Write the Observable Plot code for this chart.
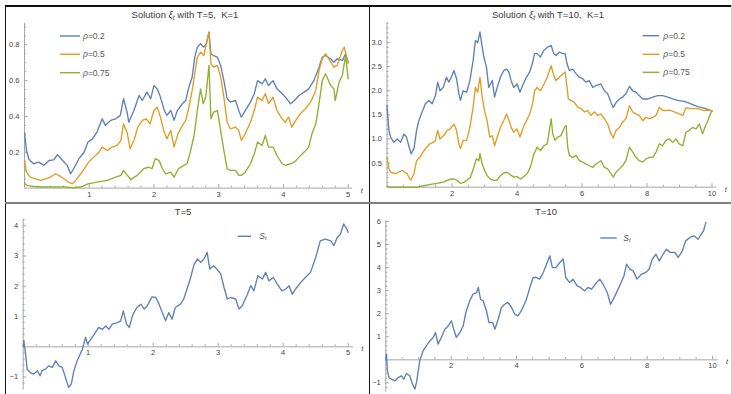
<!DOCTYPE html>
<html><head><meta charset="utf-8">
<script src="https://cdn.jsdelivr.net/npm/d3@7"></script>
<script src="https://cdn.jsdelivr.net/npm/@observablehq/plot@0.6"></script>
<style>
body{margin:0;background:#fff;font-family:"Liberation Sans",Arial,sans-serif;}
#root{position:relative;width:732px;height:394px;overflow:hidden;background:#fff;}
.panel{position:absolute;}
.panel svg{overflow:visible;}
.bar{position:absolute;}
.title{position:absolute;font-size:9.5px;color:#3a3a3a;font-weight:normal;white-space:pre;transform:translate(-50%,-50%);line-height:1;}
.legtxt{position:absolute;font-size:8.5px;color:#555;white-space:pre;transform:translateY(-50%);line-height:1;}
.legline{position:absolute;overflow:visible;}
sub{font-size:0.7em;vertical-align:-0.25em;line-height:0;}
</style></head>
<body><div id="root"></div>
<script>
// ---------------- data ----------------
const colBlue = "#5e81b5", colOrange = "#e19c24", colGreen = "#8fb031";
const rhoLabels = ["0.2", "0.5", "0.75"];

// xi_t, T=5 : [t, value]
const xi5_rho02 = [[0,0.31],[0.03,0.21],[0.07,0.16],[0.14,0.136],[0.22,0.145],[0.30,0.127],[0.38,0.154],[0.45,0.158],[0.51,0.186],[0.58,0.158],[0.66,0.127],[0.71,0.08],[0.76,0.108],[0.84,0.164],[0.92,0.20],[0.98,0.257],[1.05,0.275],[1.12,0.313],[1.20,0.387],[1.25,0.35],[1.33,0.378],[1.41,0.387],[1.48,0.406],[1.53,0.499],[1.59,0.415],[1.61,0.368],[1.69,0.433],[1.77,0.517],[1.82,0.489],[1.89,0.536],[1.95,0.499],[2.00,0.573],[2.05,0.554],[2.10,0.508],[2.16,0.433],[2.20,0.406],[2.26,0.433],[2.31,0.378],[2.36,0.433],[2.44,0.471],[2.49,0.489],[2.54,0.564],[2.59,0.62],[2.63,0.731],[2.67,0.787],[2.72,0.806],[2.77,0.787],[2.81,0.806],[2.85,0.871],[2.88,0.75],[2.92,0.74],[2.98,0.731],[3.03,0.685],[3.08,0.60],[3.13,0.499],[3.18,0.48],[3.26,0.489],[3.31,0.433],[3.35,0.396],[3.41,0.433],[3.49,0.48],[3.55,0.527],[3.60,0.60],[3.67,0.582],[3.72,0.61],[3.77,0.573],[3.84,0.60],[3.90,0.554],[3.98,0.527],[4.03,0.508],[4.11,0.471],[4.17,0.489],[4.24,0.517],[4.32,0.536],[4.39,0.554],[4.47,0.60],[4.55,0.675],[4.60,0.731],[4.65,0.74],[4.73,0.722],[4.78,0.703],[4.83,0.722],[4.91,0.713],[4.96,0.75],[5.00,0.703]];
const xi5_rho05 = [[0,0.154],[0.03,0.089],[0.09,0.061],[0.17,0.052],[0.25,0.043],[0.32,0.052],[0.40,0.061],[0.48,0.08],[0.53,0.071],[0.61,0.052],[0.68,0.033],[0.74,0.024],[0.79,0.043],[0.87,0.08],[0.94,0.117],[0.99,0.145],[1.07,0.173],[1.15,0.20],[1.20,0.229],[1.28,0.21],[1.35,0.229],[1.43,0.238],[1.49,0.266],[1.53,0.359],[1.59,0.303],[1.63,0.22],[1.69,0.266],[1.75,0.34],[1.82,0.378],[1.88,0.387],[1.94,0.359],[2.00,0.433],[2.05,0.452],[2.10,0.396],[2.15,0.322],[2.20,0.275],[2.26,0.322],[2.31,0.229],[2.37,0.303],[2.44,0.35],[2.49,0.378],[2.54,0.452],[2.59,0.545],[2.63,0.638],[2.67,0.731],[2.72,0.759],[2.77,0.74],[2.81,0.806],[2.85,0.871],[2.88,0.694],[2.92,0.675],[2.98,0.685],[3.03,0.62],[3.08,0.508],[3.13,0.368],[3.18,0.331],[3.26,0.34],[3.31,0.322],[3.35,0.266],[3.41,0.303],[3.49,0.368],[3.55,0.433],[3.60,0.508],[3.67,0.489],[3.72,0.527],[3.77,0.471],[3.84,0.508],[3.90,0.433],[3.98,0.387],[4.03,0.368],[4.08,0.396],[4.13,0.34],[4.19,0.378],[4.26,0.415],[4.34,0.443],[4.42,0.48],[4.50,0.545],[4.55,0.657],[4.60,0.722],[4.65,0.75],[4.73,0.703],[4.78,0.675],[4.83,0.685],[4.91,0.768],[4.94,0.787],[5.00,0.694]];
const xi5_rho075 = [[0,0.028],[0.04,0.015],[0.14,0.009],[0.30,0.006],[0.45,0.006],[0.61,0.006],[0.76,0.002],[0.87,0.006],[0.98,0.024],[1.12,0.033],[1.28,0.043],[1.41,0.061],[1.49,0.071],[1.53,0.099],[1.59,0.071],[1.64,0.047],[1.74,0.071],[1.84,0.108],[1.92,0.117],[1.97,0.108],[2.02,0.164],[2.08,0.154],[2.13,0.108],[2.18,0.08],[2.26,0.089],[2.31,0.061],[2.38,0.108],[2.46,0.127],[2.51,0.136],[2.56,0.20],[2.62,0.294],[2.67,0.433],[2.72,0.554],[2.76,0.471],[2.80,0.508],[2.85,0.685],[2.88,0.387],[2.92,0.424],[2.98,0.433],[3.03,0.322],[3.08,0.21],[3.13,0.108],[3.18,0.099],[3.26,0.099],[3.31,0.071],[3.35,0.071],[3.41,0.089],[3.49,0.136],[3.55,0.192],[3.60,0.257],[3.67,0.238],[3.72,0.294],[3.77,0.229],[3.84,0.229],[3.90,0.182],[3.98,0.136],[4.03,0.127],[4.11,0.136],[4.17,0.145],[4.24,0.173],[4.32,0.201],[4.39,0.229],[4.44,0.303],[4.50,0.359],[4.55,0.471],[4.60,0.601],[4.65,0.638],[4.73,0.573],[4.78,0.554],[4.80,0.489],[4.86,0.592],[4.91,0.629],[4.96,0.74],[5.00,0.61]];

// xi_t, T=10 : [t, value]
const xi10_rho02 = [[0,1.69],[0.06,1.18],[0.11,1.04],[0.21,0.93],[0.31,1.0],[0.42,0.93],[0.52,1.1],[0.60,1.04],[0.67,0.86],[0.74,0.69],[0.83,0.8],[0.91,1.18],[0.98,1.38],[1.08,1.56],[1.18,1.73],[1.29,1.8],[1.39,1.73],[1.49,1.9],[1.56,2.18],[1.63,2.0],[1.73,2.07],[1.83,2.28],[1.90,2.18],[1.98,2.28],[2.06,2.42],[2.14,2.25],[2.21,1.94],[2.26,1.8],[2.34,2.0],[2.45,1.97],[2.55,2.21],[2.65,2.63],[2.72,3.04],[2.79,3.0],[2.86,3.22],[2.93,2.9],[2.98,2.7],[3.06,2.49],[3.13,2.07],[3.24,2.21],[3.31,1.87],[3.39,2.07],[3.49,2.28],[3.59,2.42],[3.68,2.45],[3.75,2.39],[3.82,2.21],[3.90,2.07],[4.00,2.14],[4.09,1.97],[4.19,2.14],[4.29,2.28],[4.39,2.39],[4.47,2.56],[4.54,2.77],[4.62,2.77],[4.72,2.7],[4.83,2.84],[4.93,2.9],[5.05,2.94],[5.13,2.77],[5.20,2.73],[5.30,2.8],[5.41,2.77],[5.48,2.77],[5.54,2.56],[5.61,2.42],[5.71,2.45],[5.82,2.35],[5.92,2.28],[6.02,2.25],[6.12,2.18],[6.22,2.21],[6.33,2.07],[6.43,2.11],[6.58,2.14],[6.69,2.0],[6.79,1.94],[6.89,1.76],[6.96,1.65],[7.05,1.76],[7.15,1.83],[7.25,1.87],[7.35,1.94],[7.46,2.09],[7.56,2.0],[7.66,1.97],[7.76,1.9],[7.87,1.83],[8.03,1.83],[8.18,1.87],[8.33,1.9],[8.48,1.9],[8.64,1.87],[8.79,1.83],[8.94,1.8],[9.15,1.78],[9.35,1.73],[9.56,1.67],[9.76,1.64],[10,1.58]];
const xi10_rho05 = [[0,0.62],[0.06,0.38],[0.11,0.31],[0.26,0.28],[0.36,0.31],[0.47,0.35],[0.54,0.31],[0.62,0.28],[0.70,0.17],[0.74,0.15],[0.83,0.28],[0.91,0.55],[1.01,0.62],[1.11,0.73],[1.22,0.83],[1.32,0.9],[1.42,0.93],[1.49,0.97],[1.56,1.18],[1.63,1.0],[1.75,1.07],[1.85,1.18],[1.95,1.21],[2.06,1.31],[2.14,1.18],[2.21,0.9],[2.26,0.8],[2.34,0.97],[2.45,0.97],[2.55,1.24],[2.65,1.66],[2.72,2.07],[2.79,1.97],[2.86,2.28],[2.93,1.87],[3.00,1.59],[3.08,1.38],[3.16,1.04],[3.24,1.07],[3.31,0.86],[3.39,1.04],[3.49,1.24],[3.59,1.38],[3.68,1.52],[3.76,1.38],[3.82,1.24],[3.90,1.14],[4.00,1.21],[4.09,1.04],[4.19,1.24],[4.29,1.38],[4.39,1.52],[4.48,1.73],[4.54,2.0],[4.62,2.07],[4.72,2.0],[4.83,2.14],[4.93,2.28],[5.05,2.52],[5.13,2.32],[5.20,2.21],[5.30,2.28],[5.41,2.35],[5.48,2.39],[5.54,2.07],[5.58,1.83],[5.66,1.8],[5.76,1.76],[5.87,1.66],[5.97,1.63],[6.07,1.56],[6.17,1.59],[6.28,1.49],[6.38,1.56],[6.48,1.49],[6.58,1.52],[6.69,1.42],[6.79,1.31],[6.89,1.11],[6.96,1.02],[7.05,1.18],[7.15,1.24],[7.25,1.35],[7.35,1.42],[7.46,1.69],[7.56,1.56],[7.66,1.52],[7.76,1.49],[7.87,1.38],[7.97,1.45],[8.07,1.42],[8.18,1.45],[8.28,1.49],[8.38,1.66],[8.48,1.59],[8.58,1.59],[8.69,1.6],[8.84,1.56],[8.99,1.52],[9.10,1.49],[9.20,1.65],[9.35,1.63],[9.56,1.63],[9.76,1.59],[9.92,1.6],[10,1.58]];
const xi10_rho075 = [[0,0.02],[0.11,0],[0.42,0],[0.74,0],[0.93,0],[1.13,0.03],[1.34,0.06],[1.54,0.08],[1.75,0.11],[1.85,0.14],[1.98,0.17],[2.06,0.17],[2.16,0.14],[2.26,0.08],[2.36,0.1],[2.47,0.15],[2.57,0.21],[2.67,0.41],[2.75,0.59],[2.83,0.55],[2.86,0.7],[2.93,0.48],[3.00,0.35],[3.08,0.24],[3.18,0.17],[3.29,0.14],[3.39,0.15],[3.49,0.24],[3.59,0.29],[3.70,0.31],[3.79,0.26],[3.90,0.21],[4.00,0.22],[4.11,0.17],[4.21,0.22],[4.31,0.28],[4.41,0.41],[4.52,0.69],[4.62,0.83],[4.72,0.76],[4.83,0.86],[4.93,0.9],[5.05,1.42],[5.10,1.11],[5.17,0.97],[5.25,1.04],[5.35,1.07],[5.46,1.24],[5.51,1.28],[5.56,0.83],[5.61,0.66],[5.71,0.62],[5.82,0.66],[5.92,0.55],[6.02,0.52],[6.12,0.48],[6.22,0.45],[6.33,0.41],[6.43,0.48],[6.58,0.55],[6.69,0.41],[6.79,0.38],[6.89,0.28],[6.96,0.21],[7.05,0.31],[7.15,0.38],[7.25,0.45],[7.35,0.55],[7.46,0.83],[7.56,0.73],[7.66,0.62],[7.76,0.55],[7.87,0.52],[7.97,0.59],[8.07,0.62],[8.18,0.62],[8.28,0.73],[8.38,0.9],[8.48,0.86],[8.58,0.97],[8.69,1.0],[8.79,0.93],[8.89,1.0],[8.99,0.9],[9.10,0.86],[9.20,1.14],[9.30,1.18],[9.40,1.24],[9.51,1.21],[9.61,1.31],[9.71,1.11],[9.78,1.24],[9.87,1.38],[9.95,1.52],[10,1.58]];

// S_t : [t, value]
const s5 = [[0,0],[0.01,0.2],[0.04,-0.3],[0.06,-0.74],[0.11,-0.85],[0.16,-0.9],[0.22,-0.79],[0.26,-0.96],[0.29,-0.79],[0.34,-0.74],[0.39,-0.63],[0.45,-0.68],[0.50,-0.46],[0.55,-0.63],[0.60,-0.68],[0.65,-1.01],[0.70,-1.34],[0.74,-1.23],[0.78,-0.79],[0.83,-0.46],[0.91,-0.08],[0.96,0.31],[0.99,0.09],[1.04,0.25],[1.11,0.47],[1.16,0.64],[1.22,0.58],[1.27,0.69],[1.32,0.58],[1.37,0.75],[1.45,0.80],[1.50,0.86],[1.54,1.19],[1.59,0.75],[1.63,0.64],[1.69,1.08],[1.75,1.30],[1.81,1.41],[1.86,1.25],[1.91,1.36],[1.98,1.65],[2.04,1.63],[2.09,1.41],[2.14,1.13],[2.19,0.86],[2.24,1.13],[2.29,0.91],[2.34,1.30],[2.42,1.41],[2.47,1.58],[2.52,1.91],[2.57,2.24],[2.63,2.73],[2.68,2.90],[2.73,2.79],[2.78,2.90],[2.83,3.12],[2.87,2.57],[2.93,2.68],[2.98,2.57],[3.04,2.40],[3.09,1.96],[3.14,1.58],[3.19,1.63],[3.27,1.58],[3.32,1.25],[3.37,1.36],[3.45,1.74],[3.50,2.02],[3.55,1.85],[3.61,2.35],[3.68,2.24],[3.73,2.46],[3.78,2.18],[3.85,2.29],[3.91,2.07],[3.98,1.85],[4.04,1.91],[4.09,2.02],[4.14,1.74],[4.19,1.91],[4.27,2.13],[4.34,2.29],[4.42,2.46],[4.50,2.95],[4.57,3.50],[4.65,3.56],[4.73,3.50],[4.78,3.34],[4.83,3.61],[4.88,3.72],[4.93,4.06],[4.98,3.89],[5.00,3.78]];
const s10 = [[0,0],[0.02,0.25],[0.05,-0.48],[0.10,-0.77],[0.17,-0.84],[0.28,-0.91],[0.38,-0.77],[0.48,-0.69],[0.55,-0.84],[0.63,-0.59],[0.73,-0.69],[0.82,-1.06],[0.89,-1.27],[0.94,-0.98],[1.04,-0.04],[1.14,0.39],[1.24,0.61],[1.35,0.82],[1.45,0.97],[1.52,1.19],[1.60,0.68],[1.70,0.97],[1.81,1.33],[1.91,1.47],[2.01,1.69],[2.08,1.33],[2.16,0.97],[2.27,1.19],[2.37,1.47],[2.45,2.05],[2.57,2.56],[2.67,2.85],[2.78,2.92],[2.83,3.14],[2.90,2.63],[2.98,2.56],[3.08,2.13],[3.16,1.62],[3.27,1.62],[3.34,1.33],[3.44,1.76],[3.54,2.27],[3.64,2.41],[3.74,2.49],[3.85,2.27],[3.95,1.98],[4.05,1.91],[4.15,2.13],[4.29,2.56],[4.41,3.14],[4.51,3.57],[4.61,3.57],[4.71,3.50],[4.82,3.79],[4.92,4.15],[5.02,4.51],[5.10,4.00],[5.20,4.00],[5.33,4.22],[5.43,4.37],[5.51,3.57],[5.63,3.35],[5.73,3.50],[5.86,3.21],[5.96,3.14],[6.09,2.99],[6.19,3.14],[6.30,3.07],[6.45,3.35],[6.55,3.50],[6.65,3.28],[6.78,2.92],[6.88,2.41],[6.94,2.56],[7.04,2.85],[7.16,3.21],[7.29,3.64],[7.37,4.15],[7.47,3.93],[7.57,3.86],[7.69,3.50],[7.83,3.72],[7.96,3.79],[8.06,3.93],[8.16,4.37],[8.27,4.58],[8.37,4.29],[8.49,4.58],[8.59,4.80],[8.71,4.66],[8.85,4.66],[8.95,4.44],[9.08,4.73],[9.18,5.16],[9.31,5.31],[9.43,5.38],[9.56,5.23],[9.66,5.45],[9.73,5.60],[9.80,5.96]];

// tick values and labels
const tl_xTicks = [1,2,3,4,5], tl_xLabels = ["1","2","3","4","5"];
const tl_yTicks = [0.2,0.4,0.6,0.8], tl_yLabels = ["0.2","0.4","0.6","0.8"];
const tr_xTicks = [2,4,6,8,10], tr_xLabels = ["2","4","6","8","10"];
const tr_yTicks = [0.5,1,1.5,2,2.5,3], tr_yLabels = ["0.5","1.0","1.5","2.0","2.5","3.0"];
const bl_xTicks = [1,2,3,4,5], bl_xLabels = ["1","2","3","4","5"];
const bl_yTicks = [-1,1,2,3,4], bl_yLabels = ["\u22121","1","2","3","4"];
const br_xTicks = [2,4,6,8,10], br_xLabels = ["2","4","6","8","10"];
const br_yTicks = [-1,1,2,3,4,5,6], br_yLabels = ["\u22121","1","2","3","4","5","6"];

// ---------------- drawing ----------------
const root = document.getElementById("root");
const axisC = "#a6a6a6";
const FONT = "'Liberation Sans', Arial, sans-serif";

function minorTicks(lo, hi, step, major) {
  return d3.range(Math.ceil(lo/step), Math.floor(hi/step) + 1).map(k => +(k*step).toFixed(6))
    .filter(v => v !== 0 && Math.abs(v/major - Math.round(v/major)) > 1e-6);
}

function panel(cfg) {
  const {left, top, w, h, mL, mR, mT, mB, xd, yd} = cfg;
  const ppx = (w - mL - mR) / (xd[1] - xd[0]);
  const ppy = (h - mT - mB) / (yd[1] - yd[0]);
  const marks = [
    Plot.ruleY([0], {stroke: axisC, strokeWidth: 1}),
    Plot.ruleX([0], {stroke: axisC, strokeWidth: 1}),
    Plot.ruleX(cfg.xMinor, {x: d => d, y1: 0, y2: 2 / ppy, stroke: axisC}),
    Plot.ruleX(cfg.xTicks, {x: d => d, y1: 0, y2: 3.5 / ppy, stroke: axisC}),
    Plot.ruleY(cfg.yMinor, {y: d => d, x1: 0, x2: 2 / ppx, stroke: axisC}),
    Plot.ruleY(cfg.yTicks, {y: d => d, x1: 0, x2: 3.5 / ppx, stroke: axisC}),
    ...cfg.series.map(s => Plot.line(s.data, {x: d => d[0], y: d => d[1], stroke: s.color, strokeWidth: 1.35, curve: "linear"})),
    Plot.text(cfg.xTicks, {x: d => d, y: 0, dy: 6, text: (d, i) => cfg.xLabels[i], fill: "#444"}),
    Plot.text(cfg.yTicks, {x: 0, y: d => d, dx: -5, textAnchor: "end", text: (d, i) => cfg.yLabels[i], fill: "#444"}),
    Plot.text([{x: xd[1], y: 0}], {x: "x", y: "y", dx: 9, dy: 2, text: () => "t", fill: "#444", fontStyle: "italic"})
  ];
  const svg = Plot.plot({
    width: w, height: h,
    marginLeft: mL, marginRight: mR, marginTop: mT, marginBottom: mB,
    x: {domain: xd, axis: null},
    y: {domain: yd, axis: null},
    style: {fontSize: "7.5px", fontFamily: FONT, background: "transparent", overflow: "visible"},
    marks
  });
  const div = document.createElement("div");
  div.className = "panel";
  div.style.left = left + "px"; div.style.top = top + "px";
  div.style.width = w + "px"; div.style.height = h + "px";
  div.appendChild(svg);
  root.appendChild(div);
}

// top-left: xi, T=5
panel({left: 0, top: 0, w: 368, h: 202, mL: 24, mR: 15.8, mT: 22.8, mB: 14.4,
  xd: [0, 5.07], yd: [0, 0.92],
  xTicks: tl_xTicks, xLabels: tl_xLabels, yTicks: tl_yTicks, yLabels: tl_yLabels,
  xMinor: minorTicks(0, 5, 0.2, 1), yMinor: minorTicks(0, 0.9, 0.05, 0.2),
  series: [{data: xi5_rho02, color: colBlue}, {data: xi5_rho05, color: colOrange}, {data: xi5_rho075, color: colGreen}]});

// top-right: xi, T=10
panel({left: 369, top: 0, w: 363, h: 202, mL: 17.5, mR: 15.6, mT: 22.3, mB: 15.3,
  xd: [0, 10.15], yd: [0, 3.41],
  xTicks: tr_xTicks, xLabels: tr_xLabels, yTicks: tr_yTicks, yLabels: tr_yLabels,
  xMinor: minorTicks(0, 10, 0.5, 2), yMinor: minorTicks(0, 3.4, 0.1, 0.5),
  series: [{data: xi10_rho02, color: colBlue}, {data: xi10_rho05, color: colOrange}, {data: xi10_rho075, color: colGreen}]});

// bottom-left: S, T=5
panel({left: 0, top: 203, w: 368, h: 191, mL: 22.7, mR: 15.1, mT: 15.6, mB: 4.4,
  xd: [0, 5.08], yd: [-1.43, 4.22],
  xTicks: bl_xTicks, xLabels: bl_xLabels, yTicks: bl_yTicks, yLabels: bl_yLabels,
  xMinor: minorTicks(0, 5, 0.2, 1), yMinor: minorTicks(-1.4, 4.2, 0.2, 1),
  series: [{data: s5, color: colBlue}]});

// bottom-right: S, T=10
panel({left: 369, top: 203, w: 363, h: 191, mL: 16.3, mR: 14.5, mT: 17.3, mB: 2.6,
  xd: [0, 10.17], yd: [-1.39, 6.03],
  xTicks: br_xTicks, xLabels: br_xLabels, yTicks: br_yTicks, yLabels: br_yLabels,
  xMinor: minorTicks(0, 10, 0.5, 2), yMinor: minorTicks(-1.4, 6, 0.2, 1),
  series: [{data: s10, color: colBlue}]});

// ---------------- titles, legends, frame ----------------
function addTitle(html, cx, cy) {
  const d = document.createElement("div");
  d.className = "title"; d.innerHTML = html;
  d.style.left = cx + "px"; d.style.top = cy + "px";
  root.appendChild(d);
}
addTitle("Solution <i>\u03be<sub>t</sub></i> with T=5,  K=1", 185, 15);
addTitle("Solution <i>\u03be<sub>t</sub></i> with T=10,  K=1", 548, 15);
addTitle("T=5", 183, 212);
addTitle("T=10", 546, 212);

const NS = "http://www.w3.org/2000/svg";
function addLegend(x1, x2, y, tx, color, html) {
  const s = document.createElementNS(NS, "svg");
  s.setAttribute("class", "legline");
  s.setAttribute("width", 732); s.setAttribute("height", 394);
  s.style.left = "0px"; s.style.top = "0px"; s.style.pointerEvents = "none";
  const ln = document.createElementNS(NS, "line");
  ln.setAttribute("x1", x1); ln.setAttribute("x2", x2);
  ln.setAttribute("y1", y); ln.setAttribute("y2", y);
  ln.setAttribute("stroke", color); ln.setAttribute("stroke-width", 1.4);
  s.appendChild(ln);
  root.appendChild(s);
  const t = document.createElement("div");
  t.className = "legtxt"; t.innerHTML = html;
  t.style.left = tx + "px"; t.style.top = y + "px";
  root.appendChild(t);
}
const legColors = [colBlue, colOrange, colGreen];
[36, 54.3, 72.7].forEach((y, i) => addLegend(60, 80, y, 83, legColors[i], "<i>\u03c1</i>=" + rhoLabels[i]));
[35.7, 54.3, 72.3].forEach((y, i) => addLegend(642.7, 659.3, y, 663.3, legColors[i], "<i>\u03c1</i>=" + rhoLabels[i]));
addLegend(237.7, 251, 236.3, 259.3, colBlue, "<i>S<sub>t</sub></i>");
addLegend(600.3, 616.7, 238, 623.3, colBlue, "<i>S<sub>t</sub></i>");

function bar(l, t, w, h, c) {
  const d = document.createElement("div");
  d.className = "bar";
  Object.assign(d.style, {left: l + "px", top: t + "px", width: w + "px", height: h + "px", background: c});
  root.appendChild(d);
}
bar(5, 5, 727, 1.5, "#111");
bar(5, 5, 1.2, 389, "#111");
bar(368.6, 5, 1.2, 389, "#111");
bar(5, 202.3, 727, 1.5, "#808080");
bar(730.6, 5, 1, 389, "#d0d0d0");
</script></body></html>
